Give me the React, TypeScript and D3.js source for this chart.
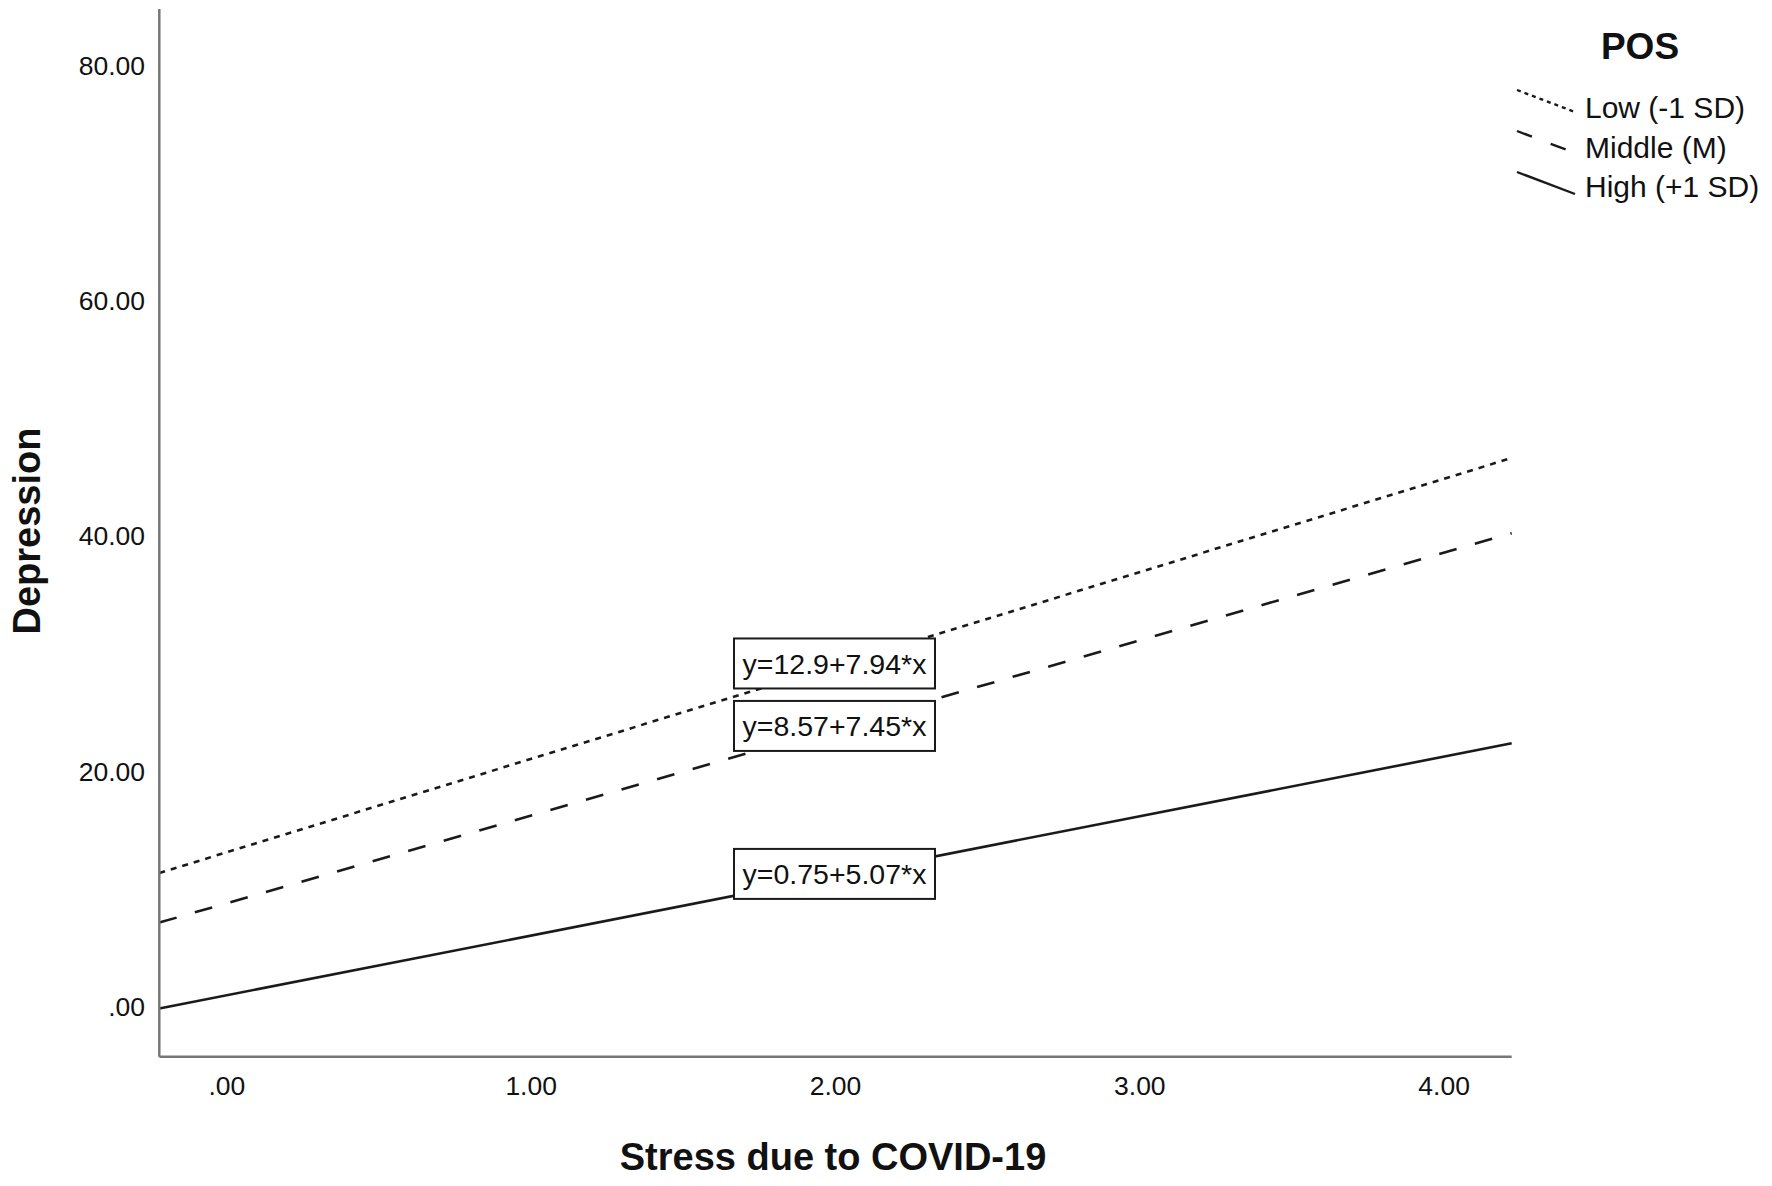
import React, { useEffect } from "react";
import * as d3 from "d3";

// ---- data ----
const seriesNames = ["Low (-1 SD)", "Middle (M)", "High (+1 SD)"];
const lineX = [-0.222, 4.222];
const lowY = [11.14, 46.42];
const middleY = [6.92, 40.03];
const highY = [-0.38, 22.16];
const equationLabels = ["y=12.9+7.94*x", "y=8.57+7.45*x", "y=0.75+5.07*x"];
const labelX = [2, 2, 2];
const labelY = [28.78, 23.47, 10.89];
const xTicks = [0, 1, 2, 3, 4];
const yTicks = [0, 20, 40, 60, 80];
const xDomain = [-0.222, 4.222];
const yDomain = [-4.48, 84.59];

const W = 1772;
const H = 1186;
const FONT = "Arial, 'Liberation Sans', Helvetica, sans-serif";
const dashes = ["6,6", "18,19", null];

const fmt = (v: number) => {
  const s = v.toFixed(2);
  return s.startsWith("0.") ? s.slice(1) : s;
};

export default function App() {
  useEffect(() => {
    document.body.style.margin = "0";
  }, []);

  const x = d3.scaleLinear().domain(xDomain).range([159.3, 1511.7]);
  const y = d3.scaleLinear().domain(yDomain).range([1056.7, 9]);
  const lineGen = d3
    .line<[number, number]>()
    .x((d) => x(d[0]))
    .y((d) => y(d[1]));

  const series = [lowY, middleY, highY];

  return (
    <svg width={W} height={H} style={{ display: "block", background: "#fff" }} fontFamily={FONT}>
      <rect x={0} y={0} width={W} height={H} fill="#fff" />
      {/* lines */}
      {series.map((s, i) => (
        <path
          key={i}
          d={lineGen(lineX.map((xv, j) => [xv, s[j]] as [number, number])) || ""}
          fill="none"
          stroke="#1a1a1a"
          strokeWidth={2.6}
          strokeDasharray={dashes[i] || undefined}
        />
      ))}
      {/* axes */}
      <line x1={x(xDomain[0])} x2={x(xDomain[0])} y1={y(yDomain[1])} y2={y(yDomain[0])} stroke="#777" strokeWidth={2.5} />
      <line x1={x(xDomain[0])} x2={x(xDomain[1])} y1={y(yDomain[0])} y2={y(yDomain[0])} stroke="#777" strokeWidth={2.5} />
      {yTicks.map((t) => (
        <text key={"y" + t} x={145} y={y(t) + 12} textAnchor="end" fontSize={26.5} fill="#111">
          {fmt(t)}
        </text>
      ))}
      {xTicks.map((t) => (
        <text key={"x" + t} x={x(t)} y={1095} textAnchor="middle" fontSize={26.5} fill="#111">
          {fmt(t)}
        </text>
      ))}
      {/* equation labels */}
      {equationLabels.map((lab, i) => (
        <g key={lab}>
          <rect
            x={x(labelX[i]) - 101.5}
            y={y(labelY[i]) - 27}
            width={201}
            height={50}
            fill="#fff"
            stroke="#1a1a1a"
            strokeWidth={2}
          />
          <text x={x(labelX[i]) - 1} y={y(labelY[i]) + 8.5} textAnchor="middle" fontSize={28.5} fill="#111">
            {lab}
          </text>
        </g>
      ))}
      {/* axis titles */}
      <text x={833} y={1170} textAnchor="middle" fontSize={38} fontWeight="bold" fill="#111">
        Stress due to COVID-19
      </text>
      <text
        transform="translate(40,531) rotate(-90)"
        textAnchor="middle"
        fontSize={38}
        fontWeight="bold"
        fill="#111"
      >
        Depression
      </text>
      {/* legend */}
      <text x={1640} y={59} textAnchor="middle" fontSize={37} fontWeight="bold" fill="#111">
        POS
      </text>
      {seriesNames.map((n, i) => (
        <g key={n}>
          <line
            x1={1517}
            y1={90 + i * 41}
            x2={1575}
            y2={112 + i * 41}
            stroke="#1a1a1a"
            strokeWidth={2.4}
            strokeDasharray={i === 0 ? "4,4" : i === 1 ? "16,20" : undefined}
          />
          <text x={1585} y={118 + i * 39.5} fontSize={30} fill="#111">
            {n}
          </text>
        </g>
      ))}
    </svg>
  );
}
